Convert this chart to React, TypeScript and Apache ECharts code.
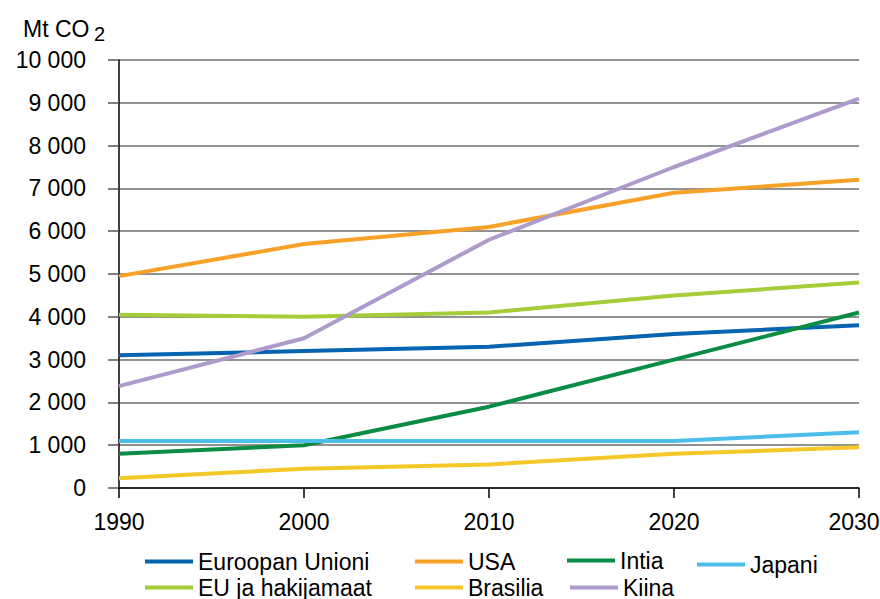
import React, { useEffect, useRef } from "react";
import * as echarts from "echarts";

// Years on the x axis
const years = [1990, 2000, 2010, 2020, 2030];

// Emissions, Mt CO2
const euroopanUnioni = [3100, 3200, 3300, 3600, 3800];
const usa = [4950, 5700, 6100, 6900, 7200];
const intia = [800, 1000, 1900, 3000, 4100];
const japani = [1100, 1100, 1100, 1100, 1300];
const euJaHakijamaat = [4050, 4000, 4100, 4500, 4800];
const brasilia = [230, 450, 550, 800, 950];
const kiina = [2380, 3500, 5800, 7500, 9100];

const seriesNames = [
  "Euroopan Unioni",
  "USA",
  "Intia",
  "Japani",
  "EU ja hakijamaat",
  "Brasilia",
  "Kiina",
];
const seriesValues = [euroopanUnioni, usa, intia, japani, euJaHakijamaat, brasilia, kiina];
const seriesColors = ["#0563b0", "#f7a128", "#0b8c44", "#4dbdea", "#a5cd3a", "#f5c82a", "#ae9acb"];

// Legend item placement (left, vertical centre)
const legendSpots: [number, number][] = [
  [145, 561],
  [415, 561],
  [567, 560],
  [697, 564],
  [145, 587],
  [415, 587],
  [570, 587],
];

const FONT = "'Liberation Sans', Arial, sans-serif";

const fmt = (v: number) => String(v).replace(/\B(?=(\d{3})+(?!\d))/g, " ");

export default function App() {
  const ref = useRef<HTMLDivElement>(null);

  useEffect(() => {
    if (!ref.current) return;
    const chart = echarts.init(ref.current, undefined, { renderer: "svg" });

    const series = seriesNames.map((name, i) => ({
      name,
      type: "line",
      data: years.map((y, j) => [y, seriesValues[i][j]]),
      showSymbol: false,
      symbol: "none",
      lineStyle: { width: 4, color: seriesColors[i] },
      itemStyle: { color: seriesColors[i] },
    }));

    const legends = seriesNames.map((name, i) => ({
      data: [name],
      left: legendSpots[i][0],
      top: legendSpots[i][1] - 11,
      padding: 0,
      icon: "rect",
      itemWidth: 48,
      itemHeight: 4,
      selectedMode: false,
      textStyle: { fontFamily: FONT, fontSize: 23, color: "#000", lineHeight: 22 },
    }));

    chart.setOption({
      animation: false,
      backgroundColor: "#fff",
      grid: {
        left: 119,
        right: 21,
        top: 60,
        bottom: 111,
        containLabel: false,
        outerBoundsMode: "none",
      },
      legend: legends,
      xAxis: {
        type: "value",
        min: 1990,
        max: 2030,
        interval: 10,
        axisLine: { show: true, lineStyle: { color: "#000", width: 1.5 } },
        axisTick: { show: true, length: 10, lineStyle: { color: "#000", width: 1.5 } },
        axisLabel: {
          fontFamily: FONT,
          fontSize: 23,
          color: "#000",
          margin: 22,
          formatter: (v: number) => (v === 2030 ? `{last|${v}}` : String(v)),
          rich: {
            last: {
              fontFamily: FONT,
              fontSize: 23,
              color: "#000",
              padding: [0, 10, 0, 0],
            },
          },
        },
        splitLine: { show: false },
      },
      yAxis: {
        type: "value",
        min: 0,
        max: 10000,
        interval: 1000,
        axisLine: { show: true, lineStyle: { color: "#000", width: 1.5 } },
        axisTick: { show: true, length: 11, lineStyle: { color: "#555", width: 1.5 } },
        axisLabel: {
          fontFamily: FONT,
          fontSize: 23,
          color: "#000",
          margin: 33,
          formatter: (v: number) => fmt(v),
        },
        splitLine: { show: true, lineStyle: { color: "#6e6e6e", width: 1.5 } },
      },
      graphic: [
        {
          type: "text",
          left: 23,
          top: 17,
          style: {
            text: "Mt CO",
            font: `23px ${FONT}`,
            fill: "#000",
          },
        },
        {
          type: "text",
          left: 94,
          top: 24,
          style: {
            text: "2",
            font: `20px ${FONT}`,
            fill: "#000",
          },
        },
      ],
      series,
    });

    return () => chart.dispose();
  }, []);

  return (
    <div
      ref={ref}
      style={{ position: "fixed", left: 0, top: 0, width: 880, height: 599 }}
    />
  );
}
